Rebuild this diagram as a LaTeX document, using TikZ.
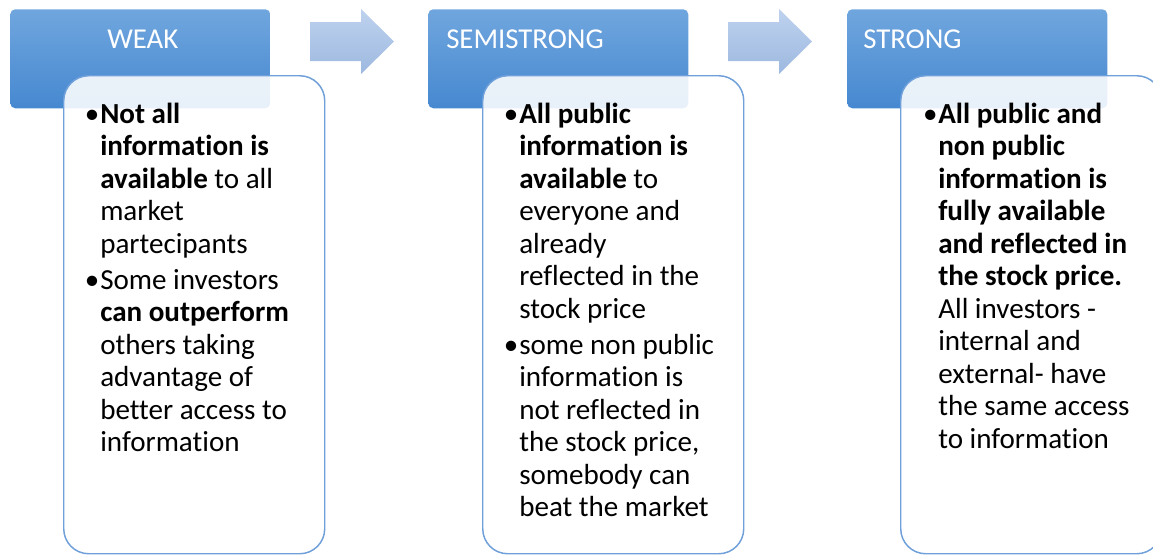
\documentclass[tikz,border=0pt]{standalone}
\usepackage{fontspec}
\setmainfont{Carlito}[Ligatures=NoCommon]
\definecolor{hdrTop}{HTML}{70A6DE}
\definecolor{hdrBot}{HTML}{4688D0}
\definecolor{arrTop}{HTML}{BED2EE}
\definecolor{arrBot}{HTML}{9DB9E0}
\definecolor{boxLine}{HTML}{6FA0DA}
\newcommand{\bul}{\leavevmode\llap{•\hspace{0.6pt}}}
\begin{document}
\begin{tikzpicture}[x=0.75pt,y=-0.75pt,
  hdr/.style={anchor=north west, inner sep=0pt, minimum width=195pt, minimum height=74.25pt,
    rounded corners=3.75pt, top color=hdrTop, bottom color=hdrBot, draw=none},
  infobox/.style={anchor=north west, inner sep=0pt, minimum width=195.75pt, minimum height=358.5pt,
    rounded corners=18.75pt, draw=boxLine, line width=1.1pt, fill=white, fill opacity=0.88, draw opacity=1},
  htext/.style={anchor=base west, inner sep=0pt, text=white, font=\fontsize{21.6}{24.3}\selectfont},
  body/.style={anchor=base west, inner sep=0pt, font=\fontsize{21.8}{24.4}\selectfont},
  flow/.style={top color=arrTop, bottom color=arrBot, draw=none}
]
\useasboundingbox (0,0) rectangle (1153,554);
% headers
\node[hdr] (h1) at (10,9) {};
\node[hdr] (h2) at (428,9) {};
\node[hdr] (h3) at (847,9) {};
% arrows
\shade[flow] (310,22) -- (361,22) -- (361,9) -- (394,41.5) -- (361,74) -- (361,61) -- (310,61) -- cycle;
\shade[flow] (728,22) -- (779,22) -- (779,9) -- (812,41.5) -- (779,74) -- (779,61) -- (728,61) -- cycle;
% info boxes
\node[infobox] (b1) at (63,75) {};
\node[infobox] (b2) at (482,75) {};
\node[infobox] (b3) at (900,75) {};
% header texts
\node[htext] (l1) at (107,48) {WEAK};
\node[htext] (l2) at (446,48) {SEMISTRONG};
\node[htext] (l3) at (863,48) {STRONG};
% body texts
\node[body] (t1) at (100,123) {\parbox[t]{260pt}{\raggedright
\bul\textbf{Not all}\\
\textbf{information is}\\
\textbf{available} to all\\
market\\
partecipants\\[2.6pt]
\bul Some investors\\
\textbf{can outperform}\\
others taking\\
advantage of\\
better access to\\
information}};
\node[body] (t2) at (519,123) {\parbox[t]{260pt}{\raggedright
\bul\textbf{All public}\\
\textbf{information is}\\
\textbf{available} to\\
everyone and\\
already\\
reflected in the\\
stock price\\[2.6pt]
\bul some non public\\
information is\\
not reflected in\\
the stock price,\\
somebody can\\
beat the market}};
\node[body] (t3) at (938,123) {\parbox[t]{260pt}{\raggedright
\bul\textbf{All public and}\\
\textbf{non public}\\
\textbf{information is}\\
\textbf{fully available}\\
\textbf{and reflected in}\\
\textbf{the stock price.}\\
All investors -\\
internal and\\
external- have\\
the same access\\
to information}};
\end{tikzpicture}
\end{document}
